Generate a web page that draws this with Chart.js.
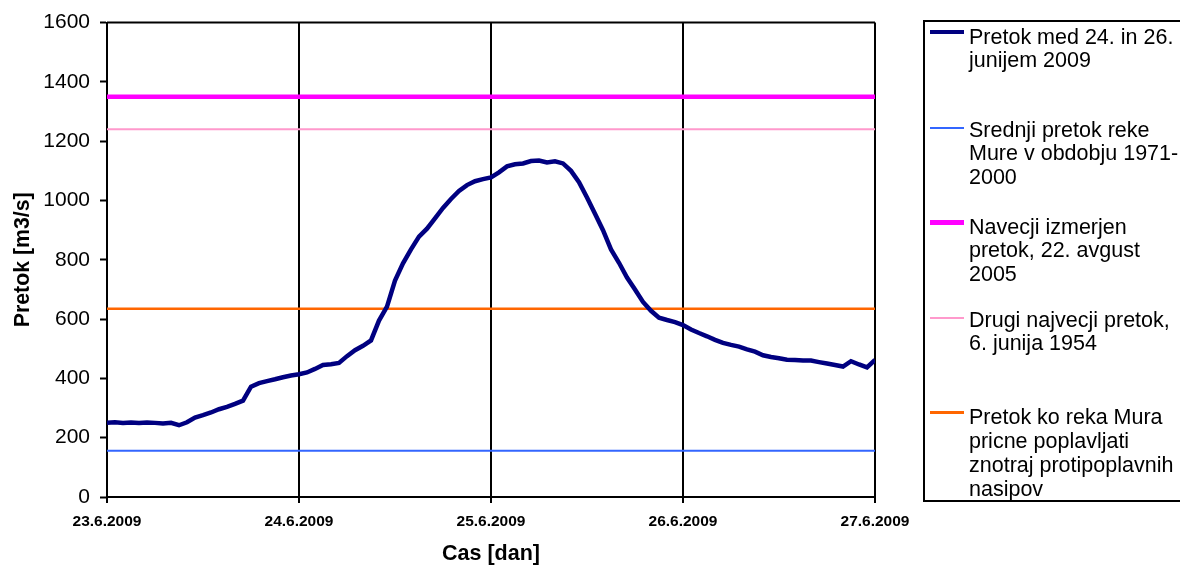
<!DOCTYPE html>
<html>
<head>
<meta charset="utf-8">
<script src="https://cdn.jsdelivr.net/npm/chart.js@4.4.1/dist/chart.umd.min.js"></script>
<style>
  html, body { margin: 0; padding: 0; background: #fff; overflow: hidden; }
  #wrap { position: relative; width: 1180px; height: 565px; }
  #legend {
    position: absolute; left: 923px; top: 20px; width: 300px; height: 478px;
    border: 2px solid #000; box-sizing: content-box;
    font-family: "Liberation Sans", Arial, sans-serif; font-size: 21.5px; color: #000;
  }
  .lg-line { position: absolute; left: 5px; width: 34px; }
  .lg-text { position: absolute; left: 44px; line-height: 23.7px; white-space: nowrap; }
</style>
</head>
<body>
<div id="wrap">
  <canvas id="chart"></canvas>
  <div id="legend"></div>
</div>
<script>
// --- DATA ---
const dateLabels = ['23.6.2009', '24.6.2009', '25.6.2009', '26.6.2009', '27.6.2009'];

// hourly flow readings, 23.6.2009 00:00 .. 27.6.2009 00:00 [m3/s]
const flowValues = [
  250, 252, 250, 251, 250, 251, 250, 248, 250, 242,
  252, 268, 276, 285, 296, 304, 314, 325, 372, 384,
  391, 397, 404, 410, 414, 420, 432, 445, 448, 452,
  475, 495, 510, 528, 595, 642, 730, 788, 835, 878,
  905, 940, 975, 1005, 1032, 1052, 1065, 1072, 1078, 1095,
  1115, 1122, 1125, 1133, 1135, 1128, 1132, 1125, 1100, 1062,
  1010, 955, 900, 835, 790, 740, 700, 658, 628, 605,
  597, 590, 580, 565, 553, 542, 530, 520, 513, 507,
  498, 490, 478, 472, 468, 463, 462, 460, 460, 455,
  450, 445, 440, 458, 447, 437, 462
];

const seriesLabels = [
  ['Pretok med 24. in 26.', 'junijem 2009'],
  ['Srednji pretok reke', 'Mure v obdobju 1971-', '2000'],
  ['Navecji izmerjen', 'pretok, 22. avgust', '2005'],
  ['Drugi najvecji pretok,', '6. junija 1954'],
  ['Pretok ko reka Mura', 'pricne poplavljati', 'znotraj protipoplavnih', 'nasipov']
];
// constant reference flows [m3/s], in legend order after the measured series
const refValues = [156, 1350, 1240, 635];

const seriesColors = ['#000080', '#3366FF', '#FF00FF', '#FF99CC', '#FF6600'];
const seriesWidths = [4.5, 2, 4.5, 2, 2.5];

// legend layout (first-line baseline of each entry)
const legendBaselines = [45, 138, 235, 328, 425.7];
const legendSampleY = [32, 128.3, 222.3, 318, 412.7];

const X_MAX = 96;
const FONT = '"Liberation Sans", Arial, sans-serif';

// --- DATASETS ---
const datasets = [{
  label: seriesLabels[0].join(' '),
  data: flowValues.map((v, i) => ({ x: i, y: v })),
  borderColor: seriesColors[0],
  borderWidth: seriesWidths[0],
  pointRadius: 0,
  tension: 0,
  order: 0
}];
refValues.forEach((v, k) => {
  datasets.push({
    label: seriesLabels[k + 1].join(' '),
    data: [{ x: 0, y: v }, { x: X_MAX, y: v }],
    borderColor: seriesColors[k + 1],
    borderWidth: seriesWidths[k + 1],
    pointRadius: 0,
    order: 1
  });
});

// top edge of the plot frame
const frame = {
  id: 'frame',
  afterDatasetsDraw(chart) {
    const { ctx, chartArea: a } = chart;
    ctx.save();
    ctx.strokeStyle = '#000';
    ctx.lineWidth = 2;
    ctx.beginPath();
    ctx.moveTo(a.left, a.top);
    ctx.lineTo(a.right, a.top);
    ctx.stroke();
    ctx.restore();
  }
};

const ctx = document.getElementById('chart').getContext('2d');
const chart = new Chart(ctx, {
  type: 'line',
  data: { datasets },
  plugins: [frame],
  options: {
    responsive: true,
    maintainAspectRatio: false,
    animation: false,
    layout: { padding: { left: 0, top: 22.5, right: 305, bottom: 0 } },
    plugins: { legend: { display: false }, tooltip: { enabled: false } },
    scales: {
      x: {
        type: 'linear',
        min: 0,
        max: X_MAX,
        afterFit: (s) => { s.height = 68; },
        afterBuildTicks: (s) => { s.ticks = dateLabels.map((_, i) => ({ value: i * 24 })); },
        ticks: {
          color: '#000',
          padding: 9,
          maxRotation: 0,
          font: { family: FONT, size: 15.5, weight: 'bold' },
          callback: (v) => dateLabels[v / 24]
        },
        grid: { color: '#000', lineWidth: 2, tickLength: 6, tickColor: '#000', tickWidth: 2 },
        border: { display: true, color: '#000', width: 2 },
        title: {
          display: true,
          text: 'Cas [dan]',
          color: '#000',
          padding: { top: 0, bottom: 0 },
          font: { family: FONT, size: 21.5, weight: 'bold', lineHeight: 1 }
        }
      },
      y: {
        min: 0,
        max: 1600,
        afterFit: (s) => { s.width = 107; },
        ticks: {
          stepSize: 200,
          color: '#000',
          padding: 10,
          font: { family: FONT, size: 21 },
          callback: (v) => String(v)
        },
        grid: { drawOnChartArea: false, tickLength: 7, tickColor: '#000', tickWidth: 2 },
        border: { display: true, color: '#000', width: 2 },
        title: {
          display: true,
          text: 'Pretok [m3/s]',
          color: '#000',
          padding: { top: 12, bottom: 0 },
          font: { family: FONT, size: 21.3, weight: 'bold', lineHeight: 1 }
        }
      }
    }
  }
});

// --- LEGEND (HTML, from the datasets) ---
const legendEl = document.getElementById('legend');
const legendTop = 22; // inner top of legend box
const ascent = 0.905 * 21.5;
seriesLabels.forEach((lines, i) => {
  const line = document.createElement('div');
  line.className = 'lg-line';
  line.style.top = (legendSampleY[i] - legendTop - seriesWidths[i] / 2) + 'px';
  line.style.height = seriesWidths[i] + 'px';
  line.style.background = seriesColors[i];
  legendEl.appendChild(line);

  const txt = document.createElement('div');
  txt.className = 'lg-text';
  txt.style.top = (legendBaselines[i] - legendTop - ascent + 0.15) + 'px';
  txt.innerHTML = lines.join('<br>');
  legendEl.appendChild(txt);
});
</script>
</body>
</html>
